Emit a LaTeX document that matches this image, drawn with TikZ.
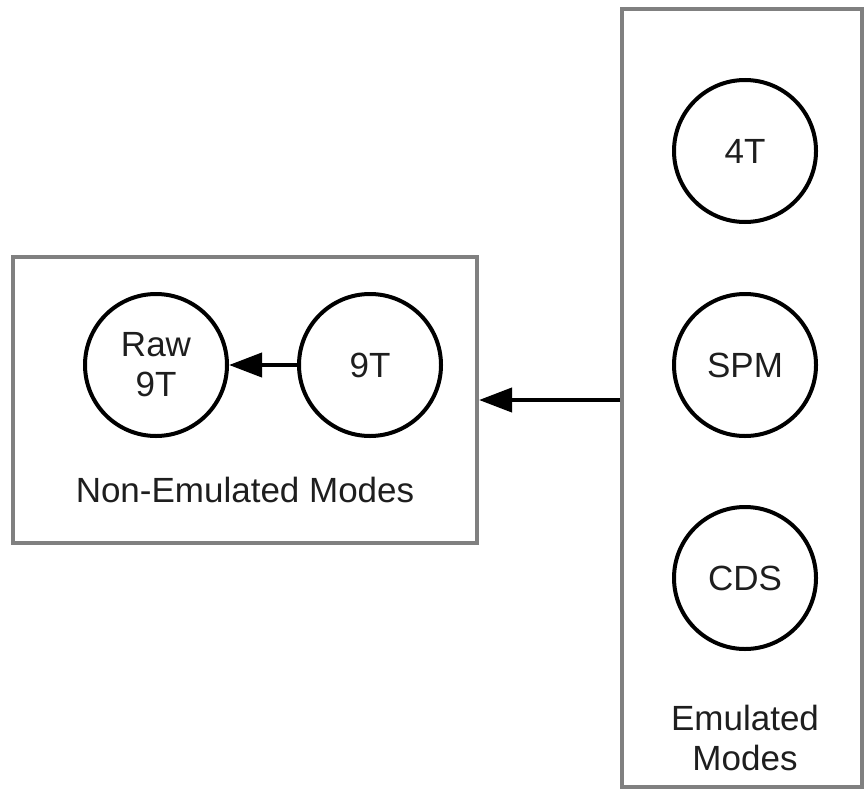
\documentclass[tikz,border=0pt]{standalone}
\usepackage{fontspec}
\setmainfont{Liberation Sans}
\usetikzlibrary{arrows.meta}
\definecolor{boxgray}{RGB}{128,128,128}
\definecolor{txt}{RGB}{30,30,30}
\begin{document}
\begin{tikzpicture}[x=1pt,y=-1pt,
  mode/.style={circle,draw=black,line width=4pt,minimum size=142pt,inner sep=0pt,align=center,text=txt,font=\fontsize{35}{40}\selectfont},
  group/.style={draw=boxgray,line width=4pt,inner sep=0pt},
  lbl/.style={text=txt,align=center,font=\fontsize{35}{40}\selectfont},
  arr/.style={line width=4pt,-{Triangle[length=33pt,width=24pt]}}]
\useasboundingbox (0,0) rectangle (866,792);
\node[group,minimum width=464pt,minimum height=286pt] (L) at (245,400) {};
\node[group,minimum width=240pt,minimum height=778pt] (R) at (742,398) {};
\node[mode] (raw) at (156,365) {Raw\\9T};
\node[mode] (n9) at (370,365) {9T};
\node[mode] (t4) at (745,151) {4T};
\node[mode] (spm) at (745,365) {SPM};
\node[mode] (cds) at (745,578) {CDS};
\node[lbl] (ltitle) at (245,490) {Non-Emulated Modes};
\node[lbl] (rtitle) at (745,738) {Emulated\\Modes};
\draw[arr] (n9) -- (raw);
\draw[arr] (L.east -| R.west) -- (L.east);
\end{tikzpicture}
\end{document}
